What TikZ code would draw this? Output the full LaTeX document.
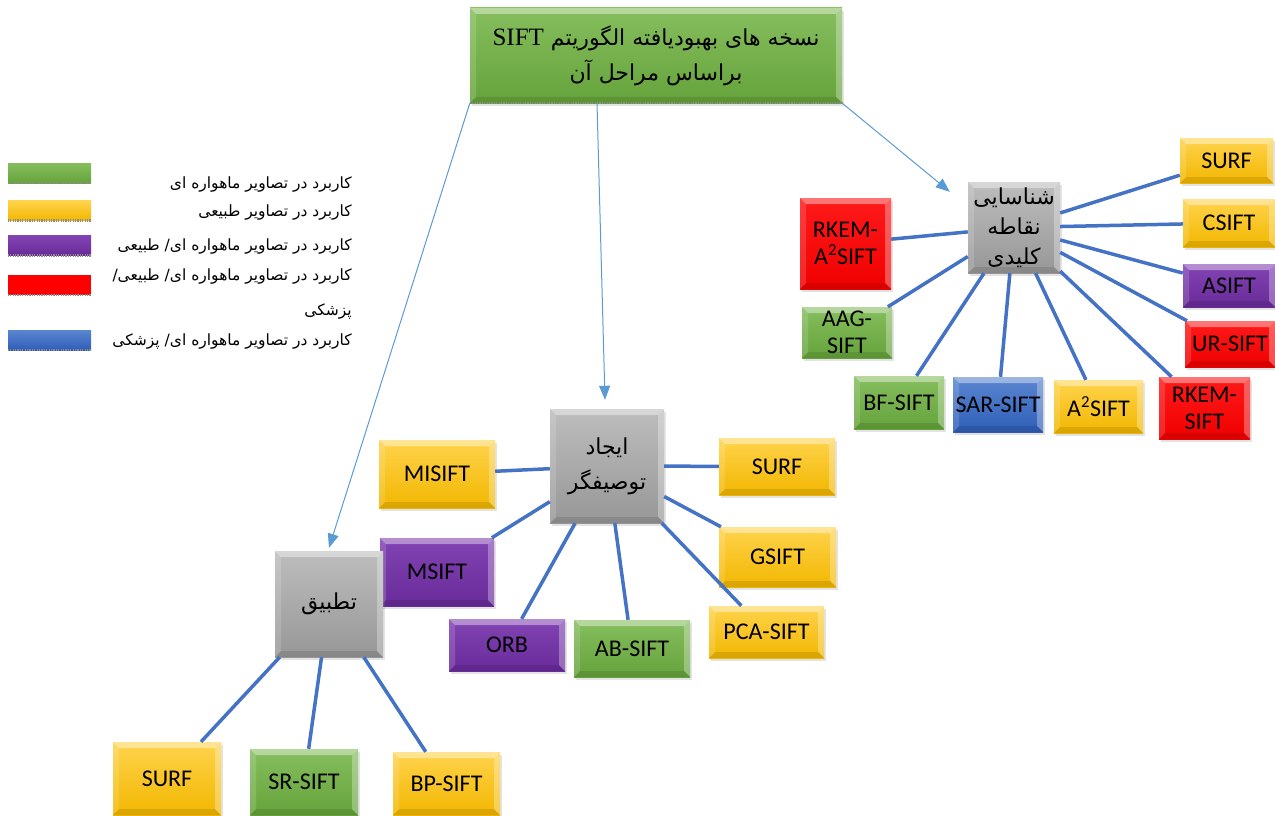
\documentclass[tikz,border=0pt]{standalone}
\usepackage{fontspec}
\setmainfont{Carlito}
\newfontfamily\fa[Script=Arabic]{DejaVu Sans}
\newfontfamily\tnr{Liberation Serif}
\TeXXeTstate=1
\usetikzlibrary{arrows.meta,shadows}
\definecolor{linkblue}{HTML}{4472C4}
\definecolor{arrowblue}{HTML}{5B9BD5}
\definecolor{grnT}{HTML}{86BE5E}
\definecolor{grnB}{HTML}{65A33B}
\definecolor{ylwT}{HTML}{FFD34D}
\definecolor{ylwB}{HTML}{F2B700}
\definecolor{prpT}{HTML}{8243B3}
\definecolor{prpB}{HTML}{6A2B9A}
\definecolor{redT}{HTML}{FF1A1A}
\definecolor{redB}{HTML}{F00000}
\definecolor{bluT}{HTML}{5A86D0}
\definecolor{bluB}{HTML}{2F5EB8}
\definecolor{gryT}{HTML}{BDBDBD}
\definecolor{gryB}{HTML}{979797}
\begin{document}
\begin{tikzpicture}[x=1pt,y=-1pt,
  bevel/.style={path picture={
    \fill[white,opacity=0.4] (path picture bounding box.north west) -- (path picture bounding box.north east)
      -- ([shift={(-6pt,-6pt)}]path picture bounding box.north east) -- ([shift={(6pt,-6pt)}]path picture bounding box.north west) -- cycle;
    \fill[white,opacity=0.3] (path picture bounding box.north east) -- (path picture bounding box.south east)
      -- ([shift={(-6pt,6pt)}]path picture bounding box.south east) -- ([shift={(-6pt,-6pt)}]path picture bounding box.north east) -- cycle;
    \fill[black,opacity=0.1] (path picture bounding box.south west) -- (path picture bounding box.south east)
      -- ([shift={(-6pt,6pt)}]path picture bounding box.south east) -- ([shift={(6pt,6pt)}]path picture bounding box.south west) -- cycle;
    \fill[white,opacity=0.15] (path picture bounding box.north west) -- (path picture bounding box.south west)
      -- ([shift={(6pt,6pt)}]path picture bounding box.south west) -- ([shift={(6pt,-6pt)}]path picture bounding box.north west) -- cycle;
  }},
  box/.style={rectangle,inner sep=1pt,align=center,font=\fontsize{24}{27}\selectfont,
    drop shadow={shadow xshift=2pt,shadow yshift=-3pt,opacity=0.22},bevel},
  greenbox/.style={box,top color=grnT,bottom color=grnB},
  yellowbox/.style={box,top color=ylwT,bottom color=ylwB},
  purplebox/.style={box,top color=prpT,bottom color=prpB},
  redbox/.style={box,top color=redT,bottom color=redB},
  bluebox/.style={box,top color=bluT,bottom color=bluB},
  stage/.style={box,top color=gryT,bottom color=gryB,font=\fa\fontsize{22}{31}\selectfont},
  swatch/.style={rectangle,inner sep=0pt,minimum width=83pt,minimum height=20pt},
  legtxt/.style={inner sep=0pt,anchor=east,align=right,font=\fa\fontsize{15.5}{35}\selectfont},
  link/.style={draw=linkblue,line width=3.5pt},
  arr/.style={draw=arrowblue,line width=1pt,-{Triangle[length=14pt,width=11pt]}},
  dots/.style={black!45,line width=2.5pt,dash pattern=on 1.2pt off 1.2pt}]
\useasboundingbox (0,0) rectangle (1275,816);

\node[greenbox,minimum width=372pt,minimum height=95pt,font=\fa\fontsize{22}{35}\selectfont] (title) at (656,55.5)
  {\beginR نسخه های بهبودیافته الگوریتم \beginL{\tnr\fontsize{25}{35}\selectfont SIFT}\endL\endR\\\beginR براساس مراحل آن\endR};
\draw[dots] (title.south west) -- (title.south east);

\node[swatch,top color=grnT,bottom color=grnB] (legGreen) at (49.5,173) {};
\node[swatch,top color=ylwT,bottom color=ylwB] (legYellow) at (49.5,210.5) {};
\node[swatch,top color=prpT,bottom color=prpB] (legPurple) at (49.5,245.5) {};
\node[swatch,fill=red] (legRed) at (49.5,285) {};
\node[swatch,top color=bluT,bottom color=bluB] (legBlue) at (49.5,340) {};
\foreach \s in {legGreen,legYellow,legPurple,legRed,legBlue}
  \draw[dots] (\s.south west) -- (\s.south east);
\node[legtxt] (legGreenTxt) at (352,185) {\beginR کاربرد در تصاویر ماهواره ای\endR};
\node[legtxt] (legYellowTxt) at (352,213) {\beginR کاربرد در تصاویر طبیعی\endR};
\node[legtxt] (legPurpleTxt) at (352,247) {\beginR کاربرد در تصاویر ماهواره ای/ طبیعی\endR};
\node[legtxt] (legRedTxt) at (352,294.5) {\beginR کاربرد در تصاویر ماهواره ای/ طبیعی/\endR\\\beginR پزشکی\endR};
\node[legtxt] (legBlueTxt) at (352,342) {\beginR کاربرد در تصاویر ماهواره ای/ پزشکی\endR};

\node[stage,minimum width=92pt,minimum height=91pt,font=\fa\fontsize{22}{30}\selectfont] (kp) at (1014,227.5)
  {\beginR شناسایی\endR\\\beginR نقاطه\endR\\\beginR کلیدی\endR};
\node[yellowbox,minimum width=93pt,minimum height=45pt] (kSurf) at (1226.5,160.5) {SURF};
\node[yellowbox,minimum width=92pt,minimum height=48pt] (kCsift) at (1229,223) {CSIFT};
\node[purplebox,minimum width=92pt,minimum height=43pt] (kAsift) at (1229,285.5) {ASIFT};
\node[redbox,minimum width=90pt,minimum height=46pt] (kUr) at (1230,344) {UR-SIFT};
\node[redbox,minimum width=91pt,minimum height=62pt] (kRkem) at (1204.5,408) {RKEM-\\SIFT};
\node[yellowbox,minimum width=89pt,minimum height=53pt] (kAsq) at (1098.5,406.5) {A\textsuperscript{2}SIFT};
\node[bluebox,minimum width=90pt,minimum height=55pt] (kSar) at (998,404.5) {SAR-SIFT};
\node[greenbox,minimum width=90pt,minimum height=53pt] (kBf) at (899,402.5) {BF-SIFT};
\node[greenbox,minimum width=90pt,minimum height=51pt] (kAag) at (847,332.5) {AAG-\\SIFT};
\node[redbox,minimum width=91pt,minimum height=91pt] (kRkemA) at (845.5,243.5) {RKEM-\\A\textsuperscript{2}SIFT};

\node[stage,minimum width=114pt,minimum height=114pt,font=\fa\fontsize{22}{35}\selectfont] (ds) at (607,466)
  {\beginR ایجاد\endR\\\beginR توصیفگر\endR};
\node[yellowbox,minimum width=116pt,minimum height=68pt] (dMisift) at (437,474) {MISIFT};
\node[yellowbox,minimum width=116pt,minimum height=57pt] (dSurf) at (777,466.5) {SURF};
\node[purplebox,minimum width=114pt,minimum height=68pt] (dMsift) at (437,572) {MSIFT};
\node[yellowbox,minimum width=117pt,minimum height=60pt] (dGsift) at (777.5,557) {GSIFT};
\node[purplebox,minimum width=116pt,minimum height=52pt] (dOrb) at (507,645) {ORB};
\node[greenbox,minimum width=116pt,minimum height=57pt] (dAb) at (632,648.5) {AB-SIFT};
\node[yellowbox,minimum width=115pt,minimum height=52pt] (dPca) at (766.5,632) {PCA-SIFT};

\node[stage,minimum width=108pt,minimum height=106pt] (mt) at (329,604) {\beginR تطبیق\endR};
\node[yellowbox,minimum width=108pt,minimum height=73pt] (mSurf) at (167,778.5) {SURF};
\node[greenbox,minimum width=108pt,minimum height=66pt] (mSr) at (304,782) {SR-SIFT};
\node[yellowbox,minimum width=107pt,minimum height=63pt] (mBp) at (446.5,783.5) {BP-SIFT};

\foreach \t in {kSurf,kCsift,kAsift,kUr,kRkem,kAsq,kSar,kBf,kAag,kRkemA}
  \draw[link] (kp) -- (\t);
\foreach \t in {dMisift,dSurf,dMsift,dGsift,dOrb,dAb,dPca}
  \draw[link] (ds) -- (\t);
\foreach \t in {mSurf,mSr,mBp}
  \draw[link] (mt) -- (\t);

\draw[arr] (title.south west) -- ([yshift=3pt]mt.north);
\draw[arr] ([xshift=-59pt]title.south) -- ([xshift=-2pt,yshift=9pt]ds.north);
\draw[arr] (title.south east) -- ([xshift=-18pt,yshift=-10pt]kp.north west);
\end{tikzpicture}
\end{document}
